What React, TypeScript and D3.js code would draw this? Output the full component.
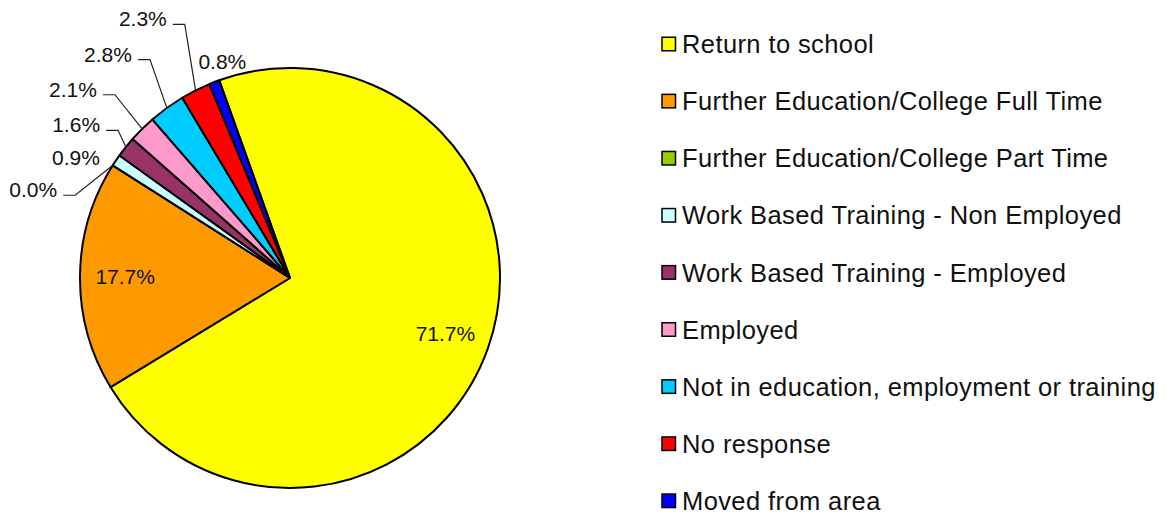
import React from 'react';
import * as d3 from 'd3';

const categories = [
  'Return to school',
  'Further Education/College Full Time',
  'Further Education/College Part Time',
  'Work Based Training - Non Employed',
  'Work Based Training - Employed',
  'Employed',
  'Not in education, employment or training',
  'No response',
  'Moved from area',
];
const values = [71.7, 17.7, 0.0, 0.9, 1.6, 2.1, 2.8, 2.3, 0.8];
const colors = ['#FFFF00', '#FF9900', '#99CC00', '#CCFFFF', '#993366', '#FF99CC', '#00CCFF', '#FF0000', '#0000FF'];
const valueLabels = values.map((v) => v.toFixed(1) + '%');

// label layout (relative to each slice's mid angle): inside flag, angle shift (deg), radial extra (px)
const labelInside = [true, true, false, false, false, false, false, false, false];
const labelAngleShift = [0, 0, -11.7, -1.7, 0.3, -0.9, 0.7, 1.3, 3.8];
const labelRadialExtra = [0, 0, 39, 15, 34, 60, 64, 77, 17];

const W = 1168;
const H = 515;
const CX = 290;
const CY = 278;
const R = 210;
const START_DEG = -19.7;
const FONT = '"Liberation Sans", Arial, Helvetica, sans-serif';
const LABEL_FS = 21;
const LEGEND_FS = 25.5;

const rad = (d: number) => (d * Math.PI) / 180;
const polar = (angRad: number, r: number): [number, number] => [
  CX + r * Math.sin(angRad),
  CY - r * Math.cos(angRad),
];

export default function App() {
  const start = rad(START_DEG);
  const pie = d3
    .pie<number>()
    .sort(null)
    .value((d) => d)
    .startAngle(start)
    .endAngle(start + Math.PI * 2);
  const arcs = pie(values);
  const arcGen = d3.arc<d3.PieArcDatum<number>>().innerRadius(0).outerRadius(R);

  const legendY = d3.scalePoint<number>().domain(d3.range(categories.length)).range([44, 500.8]);

  return (
    <svg
      width={W}
      height={H}
      style={{ position: 'absolute', left: 0, top: 0, background: '#fff' }}
      fontFamily={FONT}
    >
      <g transform={`translate(${CX},${CY})`}>
        {arcs.map((a, i) => (
          <path key={i} d={arcGen(a) || ''} fill={colors[i]} stroke="#000" strokeWidth={2} strokeLinejoin="round" />
        ))}
      </g>
      {arcs.map((a, i) => {
        const mid = (a.startAngle + a.endAngle) / 2;
        if (labelInside[i]) {
          const [x, y] = polar(mid, R * 0.785);
          return (
            <text key={i} x={x} y={y + 0.358 * LABEL_FS} textAnchor="middle" fontSize={LABEL_FS} fill="#111">
              {valueLabels[i]}
            </text>
          );
        }
        const ang = mid + rad(labelAngleShift[i]);
        const [x, y] = polar(ang, R + labelRadialExtra[i]);
        const leader = labelRadialExtra[i] > 25;
        const leftSide = leader || Math.sin(ang) < -0.45;
        const anchor = leftSide ? 'end' : 'middle';
        const [ax, ay] = polar(mid, R);
        const ly = y + 5.5;
        return (
          <g key={i}>
            {leader && (
              <polyline
                points={`${x + 6},${ly} ${x + 18},${ly} ${ax},${ay}`}
                fill="none"
                stroke="#222"
                strokeWidth={1.2}
              />
            )}
            <text x={x} y={y + 0.358 * LABEL_FS} textAnchor={anchor} fontSize={LABEL_FS} fill="#111">
              {valueLabels[i]}
            </text>
          </g>
        );
      })}
      {categories.map((c, i) => {
        const y = legendY(i) as number;
        return (
          <g key={c}>
            <rect x={662} y={y - 6.75} width={13.5} height={13.5} fill={colors[i]} stroke="#000" strokeWidth={1.5} />
            <text x={682} y={y + 0.358 * LEGEND_FS} fontSize={LEGEND_FS} fill="#111" letterSpacing={0.4}>
              {c}
            </text>
          </g>
        );
      })}
    </svg>
  );
}
